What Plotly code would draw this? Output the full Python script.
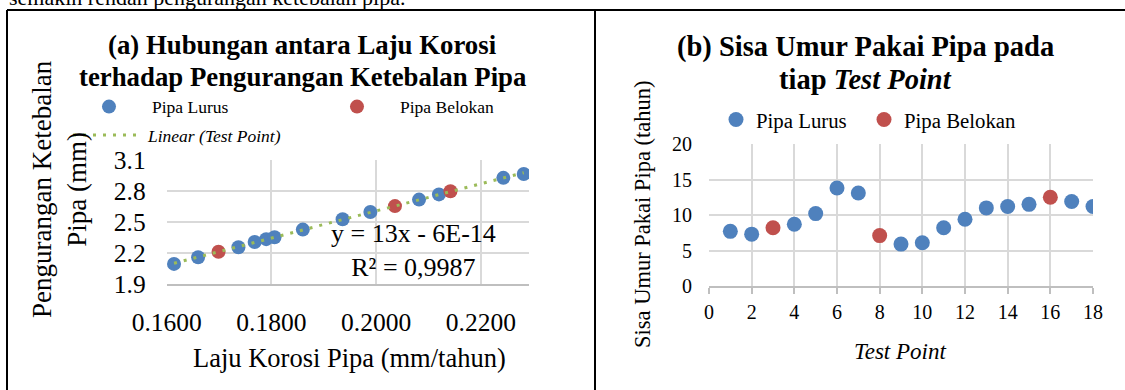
import numpy as np
import plotly.graph_objects as go

W, H = 1125, 390

# ---------------- Data: panel (a) ----------------
laju_lurus = [0.1614, 0.1660, 0.1737, 0.1768, 0.1790, 0.1806, 0.1860, 0.1936,
              0.1989, 0.2082, 0.2120, 0.2243, 0.2282]
tebal_lurus = [2.094, 2.158, 2.255, 2.305, 2.333, 2.352, 2.425, 2.525,
               2.595, 2.715, 2.765, 2.925, 2.962]
laju_belokan = [0.1699, 0.2036, 0.2142]
tebal_belokan = [2.212, 2.652, 2.795]

# ---------------- Data: panel (b) ----------------
tp_lurus = [1, 2, 4, 5, 6, 7, 9, 10, 11, 12, 13, 14, 15, 17, 18]
umur_lurus = [7.7, 7.3, 8.7, 10.2, 13.8, 13.1, 5.9, 6.1, 8.2, 9.4, 11.0, 11.2, 11.5, 11.9, 11.2]
tp_belokan = [3, 8, 16]
umur_belokan = [8.2, 7.1, 12.5]

x_ticks_a = [0.16, 0.18, 0.20, 0.22]
y_ticks_a = [1.9, 2.2, 2.5, 2.8, 3.1]

BLUE = "#4F81BD"
RED = "#C0504D"
GREEN = "#9BBB59"
GRID = "#D9D9D9"
AXIS = "#BFBFBF"
FONT = "Times New Roman, Liberation Serif, serif"
DOTS = "3px,7px"


def px(x):
    return x / W


def py(y):
    return 1 - y / H


# linear trendline fitted to all test points (as the spreadsheet does)
all_x = np.array(laju_lurus + laju_belokan)
all_y = np.array(tebal_lurus + tebal_belokan)
slope, intercept = np.polyfit(all_x, all_y, 1)
trend_x = np.array([all_x.min(), all_x.max()])
trend_y = slope * trend_x + intercept

fig = go.Figure()

fig.add_trace(go.Scatter(
    x=laju_lurus, y=tebal_lurus, mode="markers", name="Pipa Lurus",
    marker=dict(color=BLUE, size=14), xaxis="x", yaxis="y", legend="legend",
    legendwidth=157))
fig.add_trace(go.Scatter(
    x=laju_belokan, y=tebal_belokan, mode="markers", name="Pipa Belokan",
    marker=dict(color=RED, size=14), xaxis="x", yaxis="y", legend="legend"))
fig.add_trace(go.Scatter(
    x=trend_x, y=trend_y, mode="lines", name="<i>Linear (Test Point)</i>",
    line=dict(color=GREEN, width=3, dash=DOTS), xaxis="x", yaxis="y",
    legend="legend2"))

fig.add_trace(go.Scatter(
    x=tp_lurus, y=umur_lurus, mode="markers", name="Pipa Lurus",
    marker=dict(color=BLUE, size=15), xaxis="x2", yaxis="y2", legend="legend3",
    legendwidth=103))
fig.add_trace(go.Scatter(
    x=tp_belokan, y=umur_belokan, mode="markers", name="Pipa Belokan",
    marker=dict(color=RED, size=15), xaxis="x2", yaxis="y2", legend="legend3"))


def axis(size, **kw):
    d = dict(showgrid=True, gridcolor=GRID, gridwidth=1.8, zeroline=False,
             automargin=False, tickfont=dict(family=FONT, color="black", size=size))
    d.update(kw)
    return d


fig.update_layout(
    template="none",
    width=W, height=H,
    margin=dict(l=0, r=0, t=0, b=0, pad=0, autoexpand=False),
    paper_bgcolor="white", plot_bgcolor="white",
    font=dict(family=FONT, color="black"),
    xaxis=axis(25.5, domain=[px(166.7), px(529)], range=[0.16, 0.2292],
               tickvals=x_ticks_a, tickformat=".4f",
               showline=True, linecolor=AXIS, linewidth=2, ticks="",
               ticklabelstandoff=14, anchor="y"),
    yaxis=axis(25.5, domain=[py(284), py(159.7)], range=[1.9, 3.1],
               tickvals=y_ticks_a, tickformat=".1f", showline=False, ticks="",
               ticklabelstandoff=20, anchor="x"),
    xaxis2=axis(20, domain=[px(709), px(1093)], range=[0, 18], dtick=2, tick0=0,
                showline=True, linecolor=AXIS, linewidth=2,
                ticks="outside", ticklen=6, tickcolor=AXIS, tickwidth=2,
                ticklabelstandoff=1, anchor="y2"),
    yaxis2=axis(20, domain=[py(286), py(144)], range=[0, 20], dtick=5, tick0=0,
                showline=False, ticks="", ticklabelstandoff=16, anchor="x2"),
    legend=dict(orientation="h", x=px(66), y=py(106.7), xanchor="left", yanchor="middle",
                itemwidth=76,
                font=dict(family=FONT, size=17.5, color="black"),
                bgcolor="rgba(0,0,0,0)", borderwidth=0),
    legend2=dict(orientation="h", x=px(108), y=py(135), xanchor="left", yanchor="middle",
                 itemwidth=30,
                 font=dict(family=FONT, size=17.5, color="black"),
                 bgcolor="rgba(0,0,0,0)", borderwidth=0),
    legend3=dict(orientation="h", x=px(716), y=py(120), xanchor="left", yanchor="middle",
                 itemwidth=30,
                 font=dict(family=FONT, size=20.8, color="black"),
                 bgcolor="rgba(0,0,0,0)", borderwidth=0),
    showlegend=True,
)

ann = []
ann.append(dict(text="semakin rendah pengurangan ketebalan pipa.", x=px(7), y=1 + 2.6 / H,
                xanchor="left", yanchor="middle", font=dict(size=22)))
ann.append(dict(text="<b>(a) Hubungan antara Laju Korosi</b>", x=px(302), y=py(45),
                xanchor="center", yanchor="middle", font=dict(size=26.8)))
ann.append(dict(text="<b>terhadap Pengurangan Ketebalan Pipa</b>", x=px(302), y=py(77),
                xanchor="center", yanchor="middle", font=dict(size=26.8)))
ann.append(dict(text="y = 13x - 6E-14<br>R² = 0,9987", x=px(413), y=py(250.5),
                xanchor="center", yanchor="middle", font=dict(size=26)))
ann.append(dict(text="Pengurangan Ketebalan<br>Pipa (mm)", x=px(59), y=py(189),
                xanchor="center", yanchor="middle", textangle=-90, font=dict(size=27)))
ann.append(dict(text="Laju Korosi Pipa (mm/tahun)", x=px(349), y=py(358),
                xanchor="center", yanchor="middle", font=dict(size=26.5)))
ann.append(dict(text="<b>(b) Sisa Umur Pakai Pipa pada</b>", x=px(865), y=py(47),
                xanchor="center", yanchor="middle", font=dict(size=28.5)))
ann.append(dict(text="<b>tiap <i>Test Point</i></b>", x=px(865), y=py(80),
                xanchor="center", yanchor="middle", font=dict(size=28.5)))
ann.append(dict(text="Sisa Umur Pakai Pipa (tahun)", x=px(642), y=py(215),
                xanchor="center", yanchor="middle", textangle=-90, font=dict(size=22.5)))
ann.append(dict(text="<i>Test Point</i>", x=px(900), y=py(351),
                xanchor="center", yanchor="middle", font=dict(size=23)))
for a in ann:
    a.update(xref="paper", yref="paper", showarrow=False)
    a["font"] = dict(family=FONT, color="black", **a["font"])
fig.update_layout(annotations=ann)

# panel frame lines + leftward extension of the trendline legend swatch
shapes = [
    dict(type="line", x0=px(7), x1=1, y0=py(10), y1=py(10),
         line=dict(color="black", width=2)),
    dict(type="line", x0=px(7), x1=px(7), y0=py(10), y1=0,
         line=dict(color="black", width=2)),
    dict(type="line", x0=px(595), x1=px(595), y0=py(10), y1=0,
         line=dict(color="black", width=2)),
    dict(type="line", x0=px(73), x1=px(107), y0=py(135), y1=py(135),
         line=dict(color=GREEN, width=3, dash=DOTS)),
]
for s in shapes:
    s.update(xref="paper", yref="paper")
fig.update_layout(shapes=shapes)

fig.write_html("out.html",
               config={"displayModeBar": False},
               post_script="document.body.style.margin='0px';"
                           "document.body.style.overflow='hidden';")
